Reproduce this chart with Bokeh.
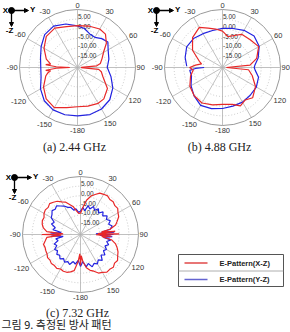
import numpy as np
from bokeh.plotting import figure
from bokeh.models import Range1d, Arrow, NormalHead
from bokeh.core.properties import value
from bokeh.embed import file_html
from bokeh.resources import INLINE

# ---------------- data (angle in degrees clockwise from top, gain in dB) ----------------
A_XZ_ANG = [0, 15, 30, 40, 50, 60, 70, 80, 85, 89, 91, 95, 100, 110, 125, 140, 150, 165, 180,
            195, 210, 225, 240, 255, 260, 263, 265, 268, 270, 272, 275, 277, 285, 300, 315, 330, 345, 360]
A_XZ_DB = [1.7, 2.2, 3.0, 2.5, -0.5, -4.5, -6.5, -8.0, -10.0, -18.0, -18.0, -9.0, -7.5, -6.0, -1.1, 1.2, 1.4, 0.7, 0.3,
           1.5, 4.0, 2.9, 0.3, -3.0, -4.5, -6.0, -3.5, -9.0, -16.0, -9.0, -3.5, -6.0, -3.3, 0.0, 2.8, 3.5, 1.9, 1.7]
A_YZ_ANG = [0, 10, 20, 30, 40, 50, 60, 75, 90, 105, 120, 135, 150, 165, 180,
            195, 210, 225, 240, 255, 270, 285, 300, 315, 330, 345, 360]
A_YZ_DB = [1.5, 0.5, -1.5, -2.0, -0.5, 0.5, -1.7, -3.2, -4.6, -2.1, 1.1, 3.6, 4.8, 5.2, 5.0,
           5.3, 5.3, 4.3, 2.1, -0.5, -1.0, -0.2, 1.7, 4.0, 4.7, 3.3, 1.5]

B_XZ_ANG = [0, 10, 20, 30, 45, 60, 75, 85, 90, 95, 105, 120, 135, 145, 155, 165, 180,
            195, 210, 225, 240, 255, 265, 270, 275, 280, 285, 300, 315, 330, 340, 350, 360]
B_XZ_DB = [-1.2, -3.8, -2.4, -0.2, 0.3, 1.6, -1.7, -5.7, -18.0, -6.5, -4.1, -0.3, 2.1, 0.5, 1.9, -0.3, -0.9,
           0.0, 1.2, 0.7, -0.5, -2.9, -4.8, -3.0, -6.0, -9.0, -7.6, -2.1, 1.9, 4.0, 1.7, 0.2, -1.2]
B_YZ_ANG = [-88, -75, -60, -45, -30, -15, 0, 15, 30, 45, 60, 75, 85, 90, 95, 105, 120, 135, 150, 165, 180,
            195, 210, 225, 240, 255, 265, 268, 270]
B_YZ_DB = [-1.5, 0.0, 1.4, 1.2, 0.2, -0.2, 0.2, 0.9, 2.2, 3.1, 1.9, -0.9, -3.1, -3.6, -3.0, -0.7, 0.2, 0.3, 0.7, 0.7, 1.2,
           2.0, 2.6, 0.8, -1.2, -3.4, -3.0, -6.0, -10.5]

C_XZ_ANG = [0, 5, 10, 15, 20, 25, 30, 35, 40, 45, 50, 55, 60, 65, 70, 75, 80, 83, 85, 87, 89, 91, 93, 95,
            100, 105, 110, 115, 120, 125, 130, 135, 140, 145, 150, 155, 160, 165, 170, 175, 178, 180, 182, 185,
            190, 195, 200, 205, 210, 215, 220, 225, 230, 235, 240, 245, 250, 255, 260, 265, 268, 270, 272, 275,
            280, 285, 290, 295, 300, 305, 310, 315, 320, 325, 330, 335, 340, 345, 350, 355, 360]
C_XZ_DB = [-9.0, -6.0, -2.0, 0.5, 2.0, 3.6, 4.0, 4.4, 3.6, 3.9, 3.2, 3.5, 2.4, 1.8, 0.2, -1.2, -4.5, -9.0, -2.0, -11.0, 0.0, -12.0, -4.0, -9.0,
           -3.5, -1.2, 0.2, 1.4, 2.2, 3.4, 3.0, 4.0, 3.5, 3.8, 2.6, 2.0, 0.2, -0.8, -2.5, -6.0, -9.0, -4.0, -10.0, -6.0,
           -1.0, 0.0, 0.8, 1.0, 0.6, 1.4, 1.0, 1.3, 0.6, 0.8, 0.0, -0.2, -0.5, -0.2, -1.5, -2.5, -10.0, 0.0, -11.0, -2.5,
           -0.5, 0.5, 1.0, 0.8, 1.8, 2.2, 1.8, 2.6, 1.8, 1.0, -0.5, -1.5, -3.5, -5.0, -7.5, -9.0, -9.0]
C_YZ_ANG = [0, 5, 10, 15, 20, 25, 30, 35, 40, 45, 50, 55, 60, 65, 70, 75, 80, 84, 86, 88, 90, 92, 94, 97,
            100, 105, 110, 115, 120, 125, 130, 135, 140, 145, 150, 155, 160, 165, 170, 175, 180, 185,
            190, 195, 200, 205, 210, 215, 220, 225, 230, 235, 240, 245, 250, 255, 260, 264, 267, 270, 273, 276,
            280, 285, 290, 295, 300, 305, 310, 315, 320, 325, 330, 335, 340, 345, 350, 355, 360]
C_YZ_DB = [-8.0, -6.0, -7.5, -4.5, -6.0, -4.0, -5.5, -3.8, -5.5, -3.5, -5.0, -3.2, -4.5, -3.0, -4.5, -3.0, -4.5, -9.0, -2.5, -12.0, -3.0, -10.0, -3.5, -8.0,
           -4.0, -6.0, -4.5, -6.0, -4.5, -5.5, -3.5, -5.0, -2.5, -4.0, -2.5, -3.5, -2.2, -4.5, -3.0, -6.0, -3.5, -6.5,
           -4.5, -5.5, -3.5, -4.5, -3.5, -4.8, -3.5, -4.8, -4.0, -5.5, -4.5, -6.5, -5.5, -8.0, -7.0, -11.0, -5.0, -9.0, -4.5, -10.0,
           -5.5, -6.5, -4.0, -5.0, -2.5, -2.0, -0.8, -1.5, -0.7, -2.0, -3.0, -4.5, -5.0, -7.0, -6.5, -8.5, -8.0]

RING_DB = [-15, -10, -5, 0, 5]
RING_LABELS = ["-15.00", "-10.00", "-5.00", "0.00", "5.00"]
DB_MIN, DB_MAX = -20, 10
SPOKE_ANG = [0, 30, 60, 90, 120, 150, 180, 210, 240, 270, 300, 330]
SPOKE_LABELS = ["0", "30", "60", "90", "120", "150", "-180", "-150", "-120", "-90", "-60", "-30"]
CAPTIONS = ["(a)  2.44  GHz", "(b)  4.88  GHz", "(c)  7.32  GHz"]
SERIES_NAMES = ["E-Pattern(X-Z)", "E-Pattern(Y-Z)"]
FIG_TITLE = "그림 9.  측정된  방사  패턴"

RED = "#e82828"
BLUE = "#2222e0"

# ---------------- figure ----------------
W, H = 290, 332
p = figure(width=W, height=H, x_range=Range1d(0, W), y_range=Range1d(H, 0),
           output_backend="svg", toolbar_location=None, min_border=0,
           x_axis_location=None, y_axis_location=None)
p.grid.visible = False
p.outline_line_color = None
p.background_fill_color = "white"

R = 58.0
SANS = value("Liberation Sans")


def rad(db):
    return np.clip((np.asarray(db, float) - DB_MIN) / (DB_MAX - DB_MIN), 0, None) * R


def polar_xy(cx, cy, ang, db):
    r = rad(db)
    th = np.radians(np.asarray(ang, float))
    return cx + r * np.sin(th), cy - r * np.cos(th)


def polar_frame(cx, cy):
    # dotted rings
    p.circle(x=[cx] * len(RING_DB), y=[cy] * len(RING_DB), radius=list(rad(RING_DB)),
             fill_color=None, line_color="#bcbcbc", line_width=0.8, line_dash="1 2")
    # spokes
    th = np.radians(SPOKE_ANG)
    p.segment(x0=[cx] * len(th), y0=[cy] * len(th),
              x1=list(cx + R * np.sin(th)), y1=list(cy - R * np.cos(th)),
              line_color="#b0b0b0", line_width=0.8)
    # outer circle
    p.circle(x=[cx], y=[cy], radius=[R], fill_color=None, line_color="#9a9a9a", line_width=1)
    # angle labels
    lx, ly = [], []
    for a, t in zip(SPOKE_ANG, SPOKE_LABELS):
        w = 4.2 * len(t)
        hh = 7.0
        s, c = np.sin(np.radians(a)), np.cos(np.radians(a))
        d = R + 1.0 + 0.5 * w * abs(s) + 0.5 * hh * abs(c)
        lx.append(cx + d * s)
        ly.append(cy - d * c)
    p.text(x=lx, y=ly, text=SPOKE_LABELS, text_font=SANS, text_font_size="7.5px",
           text_align="center", text_baseline="middle", text_color="#333333")
    # radial labels
    p.text(x=[cx + 0.5] * len(RING_DB), y=list(cy - rad(RING_DB) - 2.3), text=RING_LABELS,
           text_font=SANS, text_font_size="6.5px", text_align="left", text_baseline="middle",
           text_color="#333333")


def axis_icon(cx, cy):
    ox, oy = cx - 66, cy - 57
    p.add_layout(Arrow(end=NormalHead(size=4, fill_color="black", line_color="black"),
                       x_start=ox, y_start=oy, x_end=ox + 17, y_end=oy, line_width=1.3))
    p.add_layout(Arrow(end=NormalHead(size=4, fill_color="black", line_color="black"),
                       x_start=ox, y_start=oy, x_end=ox, y_end=oy + 16, line_width=1.3))
    p.scatter(x=[ox], y=[oy], size=6, marker="circle", fill_color="black", line_color="black")
    p.text(x=[ox - 3.5, ox + 18.5, ox - 2], y=[oy, oy - 1, oy + 20],
           text=["X", "Y", "-Z"], text_font=SANS, text_font_style="bold", text_font_size="8px",
           text_align=["right", "left", "center"], text_baseline="middle", text_color="black")


def panel(cx, cy, xz_ang, xz_db, yz_ang, yz_db, caption, cap_y):
    polar_frame(cx, cy)
    x, y = polar_xy(cx, cy, yz_ang, yz_db)
    p.line(list(x), list(y), line_color=BLUE, line_width=1.2)
    x, y = polar_xy(cx, cy, xz_ang, xz_db)
    p.line(list(x), list(y), line_color=RED, line_width=1.2)
    axis_icon(cx, cy)
    p.text(x=[cx], y=[cap_y], text=[caption], text_font=value("Liberation Serif"),
           text_font_size="12px", text_align="center", text_baseline="middle", text_color="#222222")


panel(77, 67, A_XZ_ANG, A_XZ_DB, A_YZ_ANG, A_YZ_DB, CAPTIONS[0], 146)
panel(222, 67, B_XZ_ANG, B_XZ_DB, B_YZ_ANG, B_YZ_DB, CAPTIONS[1], 146)
panel(80, 234, C_XZ_ANG, C_XZ_DB, C_YZ_ANG, C_YZ_DB, CAPTIONS[2], 312)

# ---------------- legend ----------------
p.quad(left=[178], right=[283], top=[254], bottom=[286], fill_color="white",
       line_color="#555555", line_width=1)
p.segment(x0=[178], y0=[270.5], x1=[283], y1=[270.5], line_color="#999999", line_width=0.8)
p.segment(x0=[184, 184], y0=[262.5, 279], x1=[207, 207], y1=[262.5, 279],
          line_color=["#e04848", "#6464d0"], line_width=1.3)
p.text(x=[219, 219], y=[262.5, 279], text=SERIES_NAMES, text_font=SANS, text_font_style="bold",
       text_font_size="7.5px", text_align="left", text_baseline="middle", text_color="#222222")

# ---------------- figure caption ----------------
p.text(x=[1], y=[331], text=[FIG_TITLE], text_font=value("Noto Sans CJK KR"),
       text_font_size="11px", text_align="left", text_baseline="bottom", text_color="#222222")

open("out.html", "w").write(file_html(p, INLINE))
